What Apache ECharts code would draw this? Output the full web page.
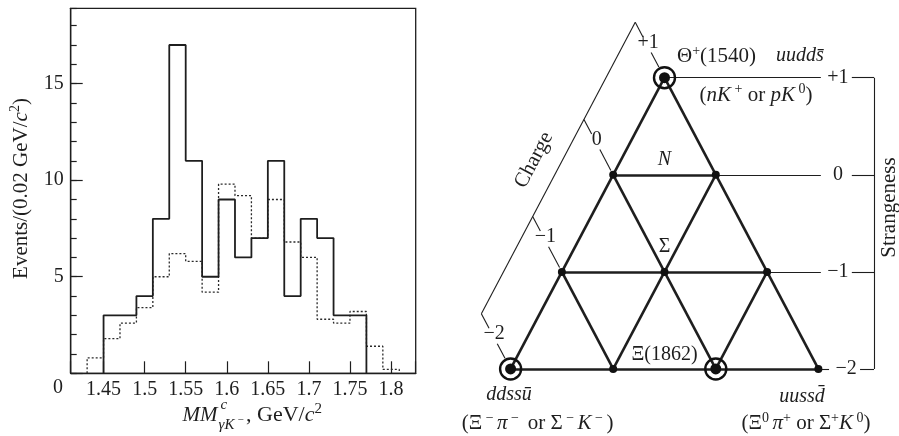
<!DOCTYPE html>
<html><head><meta charset="utf-8">
<script src="https://cdn.jsdelivr.net/npm/echarts@6/dist/echarts.min.js"></script>
<style>html,body{margin:0;padding:0;background:#fff}#c{width:899px;height:436px}</style>
</head><body><div id="c"></div>
<script>
// ---------------- data ----------------
const binWidth = 0.02;
const solidStart = 1.45;
const solidCounts = [3, 3, 4, 8, 17, 11, 5, 9, 6, 7, 11, 4, 8, 7, 3, 3];
const dottedStart = 1.43;
const dottedCounts = [0.8, 1.8, 2.6, 3.4, 5.0, 6.2, 5.8, 4.2, 9.8, 9.2, 7.0, 9.0, 6.8, 6.0, 2.8, 2.6, 3.2, 1.4, 0.2];
const xTickLabels = ['1.45', '1.5', '1.55', '1.6', '1.65', '1.7', '1.75', '1.8'];
const yTickLabels = ['5', '10', '15'];

// antidecuplet nodes: isospin projection I3 and strangeness S
const nodeNames = ['Θ+', 'N0', 'N+', 'Σ−', 'Σ0', 'Σ+', 'Ξ−−', 'Ξ−', 'Ξ0', 'Ξ+'];
const nodeI3 = [0, -0.5, 0.5, -1, 0, 1, -1.5, -0.5, 0.5, 1.5];
const nodeS = [1, 0, 0, -1, -1, -1, -2, -2, -2, -2];
const circledNodes = [0, 6, 8];
const edges = [[6, 0], [0, 9], [6, 9], [1, 2], [3, 5], [1, 8], [3, 7], [2, 7], [5, 8]];
const strangenessRows = [1, 0, -1, -2];
const chargeTickLabels = ['+1', '0', '−1', '−2'];
const strangenessTickLabels = ['+1', '0', '−1', '−2'];

// ---------------- helpers ----------------
const FONT = 'Liberation Serif';
const INK = '#1e1e1e';
function stepPoints(start, counts) {
  const pts = [[start, 0]];
  counts.forEach((c, i) => {
    const a = +(start + i * binWidth).toFixed(4);
    const b = +(start + (i + 1) * binWidth).toFixed(4);
    pts.push([a, c], [b, c]);
  });
  pts.push([+(start + counts.length * binWidth).toFixed(4), 0]);
  return pts;
}
function richSet(size) {
  const sup = Math.round(size * 0.66);
  return {
    r: {fontFamily: FONT, fontSize: size, fill: INK, lineHeight: size + 4},
    i: {fontFamily: FONT, fontSize: size, fontStyle: 'italic', fill: INK, lineHeight: size + 4},
    sup: {fontFamily: FONT, fontSize: sup, fill: INK, lineHeight: sup, verticalAlign: 'top'},
    isup: {fontFamily: FONT, fontSize: sup, fontStyle: 'italic', fill: INK, lineHeight: sup, verticalAlign: 'top'}
  };
}
function txt(x, y, text, opt) {
  opt = opt || {};
  const size = opt.size || 20;
  const align = opt.align || 'center';
  return {
    type: 'text', x: x, y: y, rotation: opt.rotation || 0, silent: true, z: 10,
    style: {
      text: text, rich: richSet(size),
      fontFamily: FONT, fontSize: size, fontStyle: opt.italic ? 'italic' : 'normal', fill: INK,
      align: align, textAlign: align, verticalAlign: 'middle', textVerticalAlign: 'middle'
    }
  };
}

// ---------------- diagram geometry (data coords) ----------------
const dir = [-0.5, 1];           // constant-charge direction
const T0 = 0.57, TICK = 0.15;
const along = (i, t) => [nodeI3[i] + dir[0] * t, nodeS[i] + dir[1] * t];
const leftIdx = [], rightIdx = [];
strangenessRows.forEach(s => {
  const idx = nodeS.map((v, i) => v === s ? i : -1).filter(i => i >= 0);
  leftIdx.push(idx.reduce((a, b) => nodeI3[b] < nodeI3[a] ? b : a));
  rightIdx.push(idx.reduce((a, b) => nodeI3[b] > nodeI3[a] ? b : a));
});
const BRACKET = 2.042;
const thinSegs = [];
thinSegs.push([along(leftIdx[0], T0), along(leftIdx[leftIdx.length - 1], T0)]);
leftIdx.forEach(i => {
  thinSegs.push([along(i, T0), along(i, T0 - TICK)]);
  thinSegs.push([along(i, circledNodes.includes(i) ? 0.11 : 0.045), along(i, 0.26)]);
});
const sLabelPos = [];
strangenessRows.forEach((s, k) => {
  const r = rightIdx[k];
  const c = Math.max(1.69, nodeI3[r] + 0.27);
  sLabelPos.push([c, s]);
  thinSegs.push([[nodeI3[r], s], [c - 0.166, s]]);
  thinSegs.push([[c + 0.136, s], [BRACKET, s]]);
});
thinSegs.push([[BRACKET, strangenessRows[0]], [BRACKET, strangenessRows[strangenessRows.length - 1]]]);

const chart = echarts.init(document.getElementById('c'), null, {renderer: 'canvas'});
const axisInk = {color: INK, width: 1.3};
const D = {xAxisIndex: 1, yAxisIndex: 2};

chart.setOption({
  animation: false,
  backgroundColor: '#fff',
  grid: [
    {left: 70.7, right: 483.3, top: 8.3, bottom: 62.7, show: true, borderColor: INK, borderWidth: 1.3, outerBoundsMode: 'none'},
    {left: 459.3, right: 8.8, top: 0, bottom: 18.47, outerBoundsMode: 'none'}
  ],
  xAxis: [
    {type: 'value', gridIndex: 0, min: 1.41, max: 1.83, splitNumber: 8, minInterval: 0.05, maxInterval: 0.05,
     axisLine: {lineStyle: axisInk}, splitLine: {show: false},
     axisTick: {inside: true, length: 12, lineStyle: {color: INK, width: 1.2}},
     axisLabel: {fontFamily: FONT, fontSize: 20, color: INK, margin: 6,
       formatter: v => xTickLabels.find(l => Math.abs(parseFloat(l) - v) < 1e-6) || ''}},
    {type: 'value', gridIndex: 1, min: -2, max: 2.2, show: false}
  ],
  yAxis: [
    {type: 'value', gridIndex: 0, min: 0, max: 18.9, interval: 1,
     axisLine: {show: true, lineStyle: axisInk}, splitLine: {show: false},
     axisTick: {inside: true, length: 6, lineStyle: {color: INK, width: 1.2}},
     axisLabel: {show: false}},
    {type: 'value', gridIndex: 0, position: 'left', min: 0, max: 18.9, interval: 5,
     axisLine: {show: false}, splitLine: {show: false},
     axisTick: {inside: true, length: 12, lineStyle: {color: INK, width: 1.2}},
     axisLabel: {fontFamily: FONT, fontSize: 20, color: INK, margin: 7, showMaxLabel: false,
       formatter: v => yTickLabels.includes(String(v)) ? String(v) : ''}},
    {type: 'value', gridIndex: 1, min: -2.5, max: 1.8, show: false}
  ],
  series: [
    {type: 'line', xAxisIndex: 0, yAxisIndex: 0, data: stepPoints(dottedStart, dottedCounts),
     showSymbol: false, silent: true, z: 2, lineStyle: {color: '#2a2a2a', width: 1.3, type: [2, 2]}},
    {type: 'line', xAxisIndex: 0, yAxisIndex: 0, data: stepPoints(solidStart, solidCounts),
     showSymbol: false, silent: true, z: 3, lineStyle: {color: INK, width: 1.8}},
    Object.assign({type: 'lines', coordinateSystem: 'cartesian2d', silent: true, z: 3,
     lineStyle: {color: INK, width: 2.6, opacity: 1, curveness: 0},
     data: edges.map(([a, b]) => ({coords: [[nodeI3[a], nodeS[a]], [nodeI3[b], nodeS[b]]]}))}, D),
    Object.assign({type: 'lines', coordinateSystem: 'cartesian2d', silent: true, z: 2,
     lineStyle: {color: INK, width: 1.1, opacity: 1, curveness: 0},
     data: thinSegs.map(c => ({coords: c}))}, D),
    Object.assign({type: 'scatter', silent: true, z: 5, clip: false,
     symbolSize: (v, p) => circledNodes.includes(p.dataIndex) ? 11 : 8,
     itemStyle: {color: '#111', opacity: 1},
     data: nodeI3.map((x, i) => ({name: nodeNames[i], value: [x, nodeS[i]]}))}, D),
    Object.assign({type: 'scatter', silent: true, z: 5, symbolSize: 21, clip: false,
     itemStyle: {color: 'rgba(0,0,0,0)', borderColor: '#111', borderWidth: 2.4, opacity: 1},
     data: circledNodes.map(i => [nodeI3[i], nodeS[i]])}, D)
  ]
});

// ---------------- text annotations ----------------
const px = p => chart.convertToPixel({xAxisIndex: 1, yAxisIndex: 2}, p);
const nodePx = i => px([nodeI3[i], nodeS[i]]);
const mid = (a, b) => { const p = nodePx(a), q = nodePx(b); return [(p[0] + q[0]) / 2, (p[1] + q[1]) / 2]; };
const g = [];
// left panel
g.push(txt(58, 388, '0'));
g.push(txt(21, 188.5, '{r|Events/(0.02 GeV/}{i|c}{sup|2}{r|)}', {size: 21, rotation: Math.PI / 2}));
g.push(txt(182.5, 415, 'MM', {size: 21, italic: true, align: 'left'}));
g.push(txt(220.5, 405, 'c', {size: 15, italic: true, align: 'left'}));
g.push(txt(218.5, 425, 'γK', {size: 15, italic: true, align: 'left'}));
g.push(txt(237.5, 420, '−', {size: 11, align: 'left'}));
g.push(txt(246, 415, '{r|, GeV/}{i|c}{sup|2}', {size: 22, align: 'left'}));

// charge axis labels
leftIdx.forEach((i, k) => {
  const p = px(along(i, 0.36));
  g.push(txt(p[0] + 2, p[1], chargeTickLabels[k]));
});
const cTop = px(along(leftIdx[0], T0)), cBot = px(along(leftIdx[leftIdx.length - 1], T0));
g.push(txt(534, 160, 'Charge', {size: 21, rotation: Math.atan2(cBot[1] - cTop[1], cTop[0] - cBot[0])}));
// strangeness labels
sLabelPos.forEach((pos, k) => {
  const p = px(pos);
  g.push(txt(p[0], p[1], strangenessTickLabels[k]));
});
g.push(txt(889, 207.5, 'Strangeness', {size: 21, rotation: Math.PI / 2}));

// node annotations
const th = nodePx(0);
g.push(txt(th[0] + 52, th[1] - 21, '{r|Θ}{sup|+}{r|(1540)}', {size: 21}));
g.push(txt(th[0] + 135.5, th[1] - 21.5, 'uudds\u0304', {italic: true}));
g.push(txt(th[0] + 91.5, th[1] + 17.5, '{r|(}{i|nK}{sup| +}{r| or }{i|pK}{sup| 0}{r|)}', {size: 21}));
const nm = mid(1, 2);
g.push(txt(nm[0], nm[1] - 15.5, 'N', {italic: true}));
const sg = nodePx(4);
g.push(txt(sg[0], sg[1] - 25, 'Σ'));
const xm = mid(7, 8);
g.push(txt(xm[0], xm[1] - 14, 'Ξ(1862)'));
const xl = nodePx(6);
g.push(txt(xl[0] - 1.6, xl[1] + 26, 'ddssu\u0304', {italic: true}));
g.push(txt(xl[0] + 27, xl[1] + 55, '{r|(Ξ}{sup| − }{i|π}{sup| − }{r| or Σ}{sup| − }{i|K}{sup| − }{r|)}', {size: 21}));
const xr = nodePx(9);
g.push(txt(xr[0] - 16.4, xr[1] + 27.7, 'uussd\u0304', {italic: true}));
g.push(txt(xr[0] - 12.4, xr[1] + 55, '{r|(Ξ}{sup|0 }{i|π}{sup|+}{r| or Σ}{sup|+}{i|K}{sup| 0}{r|)}', {size: 21}));

chart.setOption({graphic: {elements: g}});
</script></body></html>
